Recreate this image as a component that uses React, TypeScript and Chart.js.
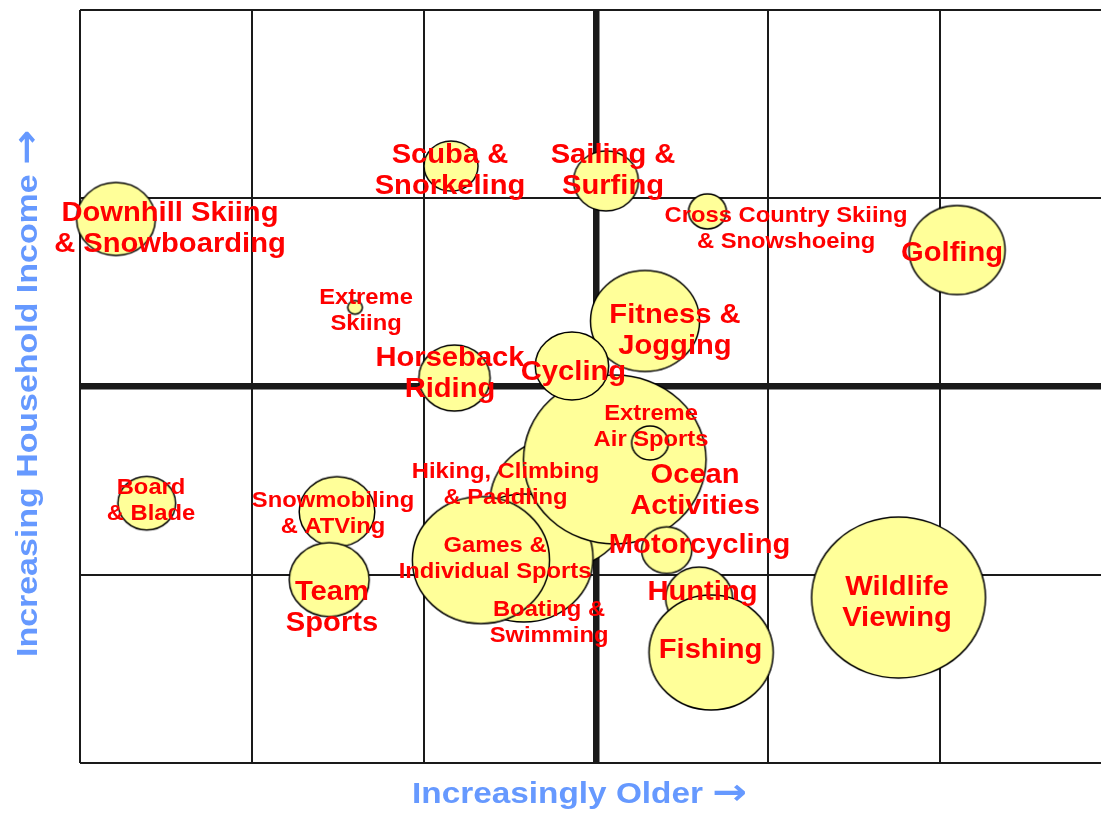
import React, { useEffect, useRef } from 'react';
import { Chart, registerables } from 'chart.js';

Chart.register(...registerables);

// Activities, in drawing order (later ones are painted on top)
const activities = [
  'Downhill Skiing\n& Snowboarding',
  'Scuba &\nSnorkeling',
  'Sailing &\nSurfing',
  'Cross Country Skiing\n& Snowshoeing',
  'Golfing',
  'Extreme\nSkiing',
  'Horseback\nRiding',
  'Hiking, Climbing\n& Paddling',
  'Boating &\nSwimming',
  'Games &\nIndividual Sports',
  'Ocean\nActivities',
  'Extreme\nAir Sports',
  'Fitness &\nJogging',
  'Cycling',
  'Motorcycling',
  'Hunting',
  'Fishing',
  'Wildlife\nViewing',
  'Board\n& Blade',
  'Snowmobiling\n& ATVing',
  'Team\nSports',
];

// age position (x) and income position (y) of each bubble
const ageIndex = [0.209, 2.157, 3.058, 3.648, 5.099, 1.599, 2.177, 2.791, 2.581, 2.331, 3.109, 3.314, 3.285, 2.86, 3.411, 3.599, 3.669, 4.759, 0.388, 1.494, 1.449];
const incomeIndex = [2.89, 3.171, 3.092, 2.93, 2.725, 2.42, 2.045, 1.381, 1.089, 1.078, 1.612, 1.7, 2.348, 2.109, 1.131, 0.876, 0.587, 0.879, 1.38, 1.335, 0.974];
// bubble size (participation)
const bubbleSize = [36.5, 25, 30, 17.5, 44.5, 6.8, 33, 65, 64, 63.5, 84.5, 17, 50.5, 34, 23.3, 31, 57.5, 80.5, 26.7, 35, 37];

// label anchor of each activity
const labelAge = [0.523, 2.151, 3.099, 4.105, 5.07, 1.663, 2.151, 2.474, 2.727, 2.413, 3.576, 3.32, 3.459, 2.869, 3.602, 3.619, 3.666, 4.75, 0.413, 1.471, 1.465];
const labelIncome = [2.853, 3.163, 3.163, 2.853, 2.72, 2.417, 2.08, 1.493, 0.76, 1.1, 1.461, 1.801, 2.311, 2.088, 1.169, 0.919, 0.611, 0.866, 1.41, 1.339, 0.839];
const labelLarge = [true, true, true, false, true, false, true, false, false, false, true, false, true, true, true, true, true, true, false, false, true];

const xGridTicks = [0, 1, 2, 3, 4, 5];
const yGridTicks = [0, 1, 2, 3, 4];
const xAxisTitle = 'Increasingly Older';
const yAxisTitle = 'Increasing Household Income';
const arrowGlyph = '\u2192';

const FONT = '"Liberation Sans", Arial, Helvetica, sans-serif';
const ARROW_FONT = '"DejaVu Sans", "Liberation Sans", sans-serif';
const ASPECT = 1.08;

const ellipseCache = new Map<number, HTMLCanvasElement>();
function ellipseStyle(r: number): HTMLCanvasElement {
  const key = Math.round(r * 10);
  const hit = ellipseCache.get(key);
  if (hit) return hit;
  const rx = r * ASPECT;
  const ry = r;
  const c = document.createElement('canvas');
  c.width = Math.ceil(rx * 2 + 4);
  c.height = Math.ceil(ry * 2 + 4);
  const g = c.getContext('2d')!;
  g.beginPath();
  g.ellipse(c.width / 2, c.height / 2, rx, ry, 0, 0, Math.PI * 2);
  g.fillStyle = '#FFFF99';
  g.fill();
  g.lineWidth = 1.5;
  g.strokeStyle = '#000000';
  g.stroke();
  ellipseCache.set(key, c);
  return c;
}

function drawTitle(ctx: CanvasRenderingContext2D, text: string, stretch: number) {
  // draws text + arrow left-aligned from origin along +x
  ctx.textAlign = 'left';
  ctx.textBaseline = 'alphabetic';
  ctx.save();
  ctx.scale(stretch, 1);
  ctx.font = `bold 29px ${FONT}`;
  ctx.fillText(text, 0, 0);
  const w = ctx.measureText(text + ' ').width;
  ctx.font = `bold 36px ${ARROW_FONT}`;
  ctx.fillText(arrowGlyph, w, 1);
  ctx.restore();
}

const labelPlugin = {
  id: 'activityLabels',
  afterDatasetsDraw(chart: any) {
    const { ctx, chartArea } = chart;
    const xs = chart.scales.x;
    const ys = chart.scales.y;
    ctx.save();
    ctx.textAlign = 'center';
    ctx.textBaseline = 'middle';
    ctx.fillStyle = '#FF0000';
    activities.forEach((name, i) => {
      const big = labelLarge[i];
      const size = big ? 27 : 22;
      const lh = big ? 31 : 26;
      const cx = xs.getPixelForValue(labelAge[i]);
      const cy = ys.getPixelForValue(labelIncome[i]) + 3;
      const lines = name.split('\n');
      ctx.font = `bold ${size}px ${FONT}`;
      lines.forEach((line, j) => {
        const ly = cy + (j - (lines.length - 1) / 2) * lh;
        ctx.save();
        ctx.translate(cx, ly);
        ctx.scale(ASPECT, 1);
        ctx.fillText(line, 0, 0);
        ctx.restore();
      });
    });

    // axis titles
    ctx.fillStyle = '#6699FF';
    ctx.save();
    ctx.translate(chartArea.left + 332, chartArea.bottom + 40);
    drawTitle(ctx, xAxisTitle, 1.15);
    ctx.restore();

    ctx.save();
    ctx.translate(chartArea.left - 43, chartArea.top + 647);
    ctx.rotate(-Math.PI / 2);
    drawTitle(ctx, yAxisTitle, 1.17);
    ctx.restore();
    ctx.restore();
  },
};

export default function App() {
  const canvasRef = useRef<HTMLCanvasElement | null>(null);

  useEffect(() => {
    document.body.style.margin = '0';
    const canvas = canvasRef.current;
    if (!canvas) return;
    const points = activities.map((_, i) => ({ x: ageIndex[i], y: incomeIndex[i], r: bubbleSize[i] }));
    const chart = new Chart(canvas, {
      type: 'bubble',
      data: {
        datasets: [
          {
            label: 'Activities',
            data: points,
            clip: false,
            backgroundColor: '#FFFF99',
            borderColor: '#000000',
            borderWidth: 1,
            pointStyle: (ctx: any) => (ctx.raw && typeof ctx.raw.r === 'number' ? ellipseStyle(ctx.raw.r) : 'circle'),
          } as any,
        ],
      },
      options: {
        responsive: false,
        animation: false,
        events: [],
        layout: { autoPadding: false, padding: { left: 80, top: 10, right: 0, bottom: 52 } },
        plugins: {
          legend: { display: false },
          tooltip: { enabled: false },
          title: { display: false },
        },
        scales: {
          x: {
            type: 'linear',
            min: 0,
            max: 5.936,
            afterBuildTicks: (scale: any) => {
              scale.ticks = xGridTicks.map((v) => ({ value: v }));
            },
            ticks: { display: false },
            border: { display: false },
            grid: {
              drawTicks: false,
              color: '#1a1a1a',
              lineWidth: (ctx: any) => (ctx.tick && ctx.tick.value === 3 ? 6.5 : 2),
            },
          },
          y: {
            type: 'linear',
            min: 0,
            max: 4,
            afterBuildTicks: (scale: any) => {
              scale.ticks = yGridTicks.map((v) => ({ value: v }));
            },
            ticks: { display: false },
            border: { display: false },
            grid: {
              drawTicks: false,
              color: '#1a1a1a',
              lineWidth: (ctx: any) => (ctx.tick && ctx.tick.value === 2 ? 6.5 : 2),
            },
          },
        },
      },
      plugins: [labelPlugin],
    } as any);
    return () => chart.destroy();
  }, []);

  return (
    <div style={{ position: 'fixed', left: 0, top: 0, width: 1101, height: 815, background: '#ffffff' }}>
      <canvas ref={canvasRef} width={1101} height={815} style={{ width: 1101, height: 815, display: 'block' }} />
    </div>
  );
}
